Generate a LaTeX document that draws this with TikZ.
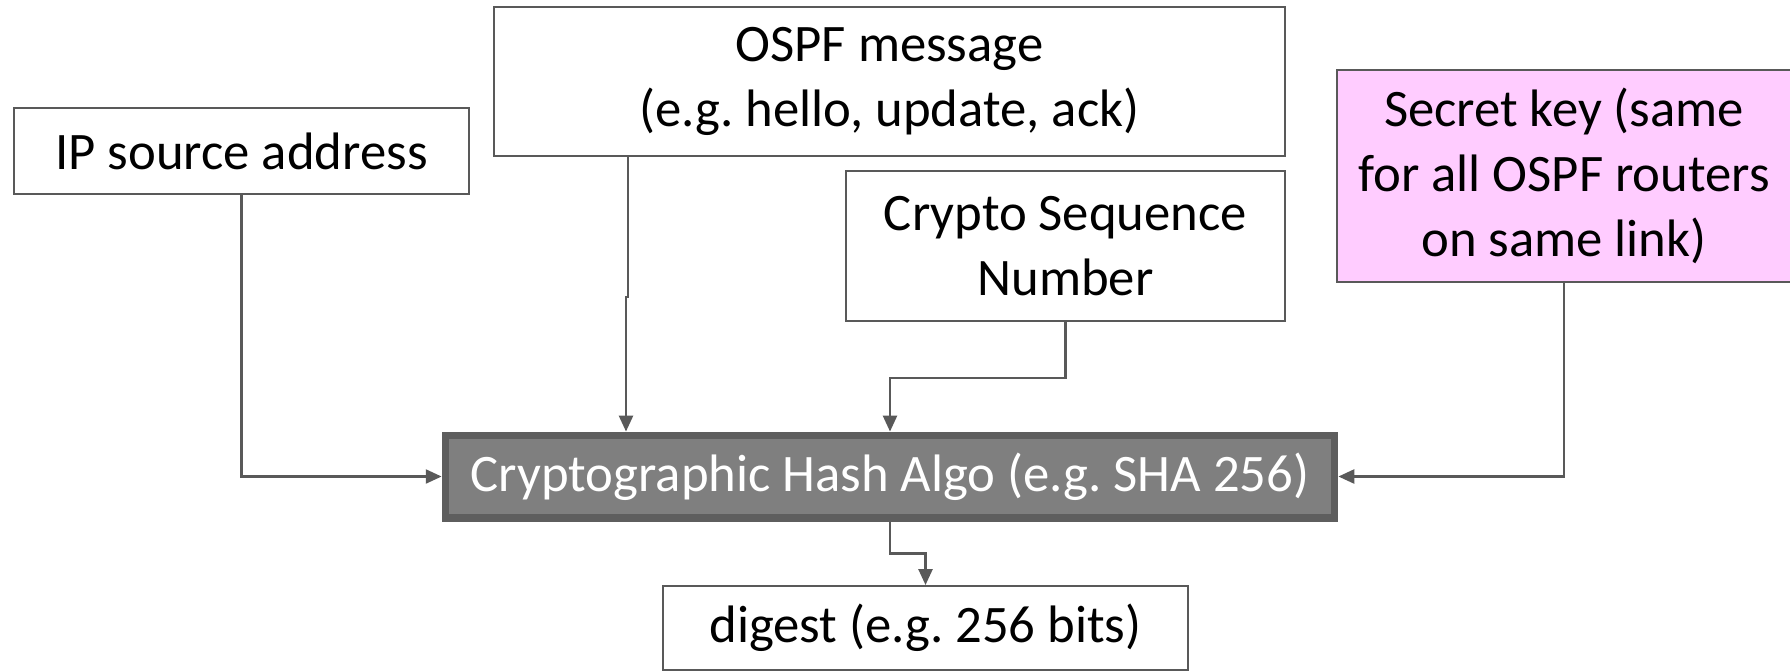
\documentclass[tikz,border=0pt]{standalone}
\usepackage{fontspec}
\setmainfont{Carlito}
\frenchspacing
\usetikzlibrary{arrows.meta}
\definecolor{linegray}{HTML}{595959}
\definecolor{hashgray}{HTML}{7F7F7F}
\definecolor{hashedge}{HTML}{5E5E5E}
\definecolor{keypink}{HTML}{FFCCFF}
\tikzset{
  inbox/.style={draw=linegray, line width=1.2pt, fill=white, inner sep=0pt,
    align=center, font=\fontsize{30}{37}\selectfont},
  hashbox/.style={inbox, draw=hashedge, line width=4pt, fill=hashgray, text=white},
  feed/.style={draw=linegray, line width=1.2pt, -{Triangle[length=9pt,width=8pt]}}
}
\begin{document}
\begin{tikzpicture}[x=0.02cm,y=-0.02cm]
\useasboundingbox (0,0) rectangle (1790,670);
\node[inbox, minimum width=9.1cm, minimum height=1.72cm] (ip) at (241.5,151) {IP source address};
\node[inbox, minimum width=15.82cm, minimum height=2.98cm] (ospf) at (889.5,81.5) {OSPF message\\(e.g. hello, update, ack)};
\node[inbox, minimum width=8.78cm, minimum height=3cm] (seq) at (1065.5,246) {Crypto Sequence\\Number};
\node[inbox, fill=keypink, minimum width=9.08cm, minimum height=4.24cm] (key) at (1564,176) {Secret key (same\\for all OSPF routers\\on same link)};
\node[hashbox, minimum width=17.8cm, minimum height=1.66cm] (hash) at (890,476.5) {Cryptographic Hash Algo (e.g. SHA 256)};
\node[inbox, minimum width=10.5cm, minimum height=1.68cm] (dig) at (925.5,628) {digest (e.g. 256 bits)};
\draw[feed] (ip.south) |- (hash.west);
\draw[feed] (ospf.south -| 628,0) -- (628,297) -- (626,297) -- (hash.north -| 626,0);
\draw[feed] (seq.south) -- ++(0,56) -| (hash.north);
\draw[feed] (key.south) |- (hash.east);
\draw[feed] (hash.south) -- ++(0,32) -| (dig.north);
\end{tikzpicture}
\end{document}
